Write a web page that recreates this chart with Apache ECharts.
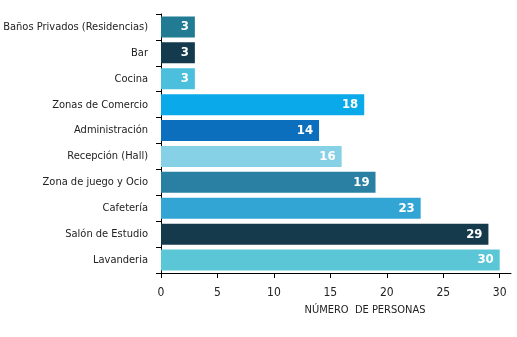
<!DOCTYPE html>
<html>
<head>
<meta charset="utf-8">
<script src="https://cdn.jsdelivr.net/npm/echarts@6/dist/echarts.min.js"></script>
<style>html,body{margin:0;padding:0;background:#fff}#c{width:517px;height:337px}</style>
</head>
<body>
<div id="c"></div>
<script>
const categories = ["Baños Privados (Residencias)", "Bar", "Cocina", "Zonas de Comercio", "Administración", "Recepción (Hall)", "Zona de juego y Ocio", "Cafetería", "Salón de Estudio", "Lavanderia"];
const values = [3, 3, 3, 18, 14, 16, 19, 23, 29, 30];
const colors = ["#217c93", "#143a4e", "#4bbfdb", "#0aa9e9", "#0b6fbd", "#86d1e6", "#2a80a3", "#33a5d5", "#143a4c", "#5ac6d6"];
const xTicks = [0, 5, 10, 15, 20, 25, 30];
const xName = "NÚMERO  DE PERSONAS";

const FONT = "'DejaVu Sans Condensed', 'Liberation Sans Narrow', sans-serif";
const chart = echarts.init(document.getElementById('c'), null, {renderer: 'canvas'});
chart.setOption({
  animation: false,
  title: {
    text: xName, left: 360, top: 300, textAlign: 'center',
    textStyle: {fontFamily: FONT, fontSize: 11, fontWeight: 'normal', color: '#222'}
  },
  grid: {left: 161, right: 6, top: 14, bottom: 64, containLabel: false, outerBoundsMode: 'none'},
  xAxis: {
    type: 'value', min: 0, max: 31, interval: 5,
    axisLine: {show: true, lineStyle: {color: '#000', width: 1}},
    axisTick: {show: true, length: 5, lineStyle: {color: '#000'}, customValues: xTicks},
    axisLabel: {fontFamily: FONT, fontSize: 12, color: '#222', margin: 14, customValues: xTicks},
    splitLine: {show: false}
  },
  yAxis: {
    type: 'category', data: categories, inverse: true,
    axisLine: {show: true, lineStyle: {color: '#000', width: 1}},
    axisTick: {show: true, length: 5, alignWithLabel: false, lineStyle: {color: '#000'}},
    axisLabel: {fontFamily: FONT, fontSize: 11, color: '#222', margin: 13}
  },
  series: [{
    type: 'bar',
    data: values.map((v, i) => ({value: v, itemStyle: {color: colors[i]}})),
    barCategoryGap: '19%',
    label: {
      show: true, position: 'insideRight', distance: 6,
      color: '#fff', fontFamily: FONT, fontSize: 13, fontWeight: 'bold'
    }
  }]
});
</script>
</body>
</html>
